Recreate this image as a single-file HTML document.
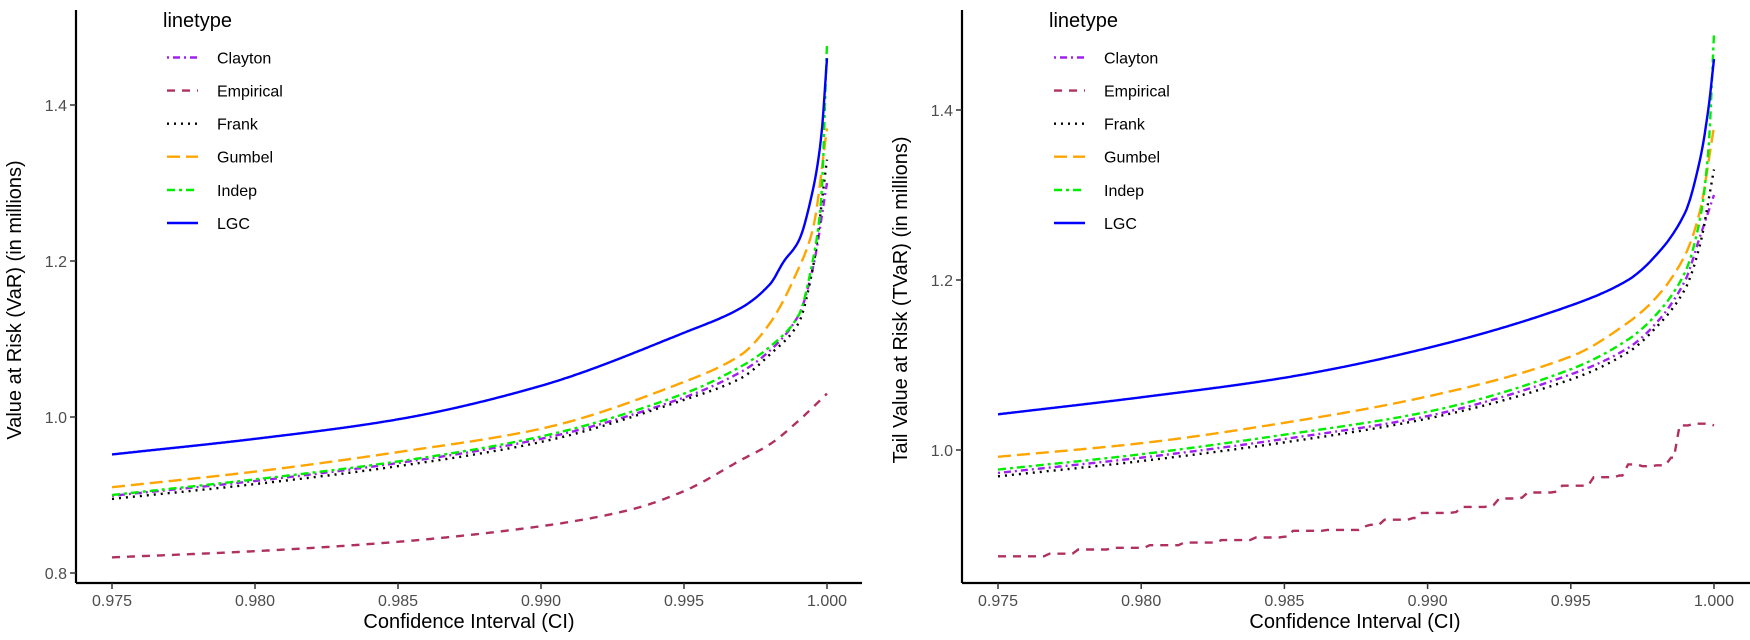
<!DOCTYPE html>
<html><head><meta charset="utf-8"><style>
html,body{margin:0;padding:0;background:#fff}
svg{display:block}
text{font-family:"Liberation Sans",sans-serif}
.tk{font-size:16px;fill:#4d4d4d}
.tt{font-size:20px;fill:#000}
.lg{font-size:16px;fill:#000}
</style></head><body>
<svg id="s" width="1750" height="640" xmlns="http://www.w3.org/2000/svg">
<g id="g"></g>
</svg>
<script>
const NS="http://www.w3.org/2000/svg";
const g=document.getElementById('g');
function el(t,a,txt){const e=document.createElementNS(NS,t);for(const k in a)e.setAttribute(k,a[k]);if(txt!=null)e.textContent=txt;g.appendChild(e);return e;}
const styles={
Clayton:{c:"#A020F0",d:"2 4 7 4"},
Empirical:{c:"#B03060",d:"8 7"},
Frank:{c:"#000",d:"2 5"},
Gumbel:{c:"#FFA500",d:"13 6"},
Indep:{c:"#00EE00",d:"8 4 3 4"},
LGC:{c:"#0000FF",d:""}
};
const names=["Clayton","Empirical","Frank","Gumbel","Indep","LGC"];
// monotone cubic (Fritsch-Carlson)
function mono(pts){const n=pts.length,xs=pts.map(p=>p[0]),ys=pts.map(p=>p[1]);const d=[],m=[];
 for(let i=0;i<n-1;i++)d.push((ys[i+1]-ys[i])/(xs[i+1]-xs[i]));
 m[0]=d[0];m[n-1]=d[n-2];for(let i=1;i<n-1;i++){m[i]=(d[i-1]*d[i]<=0)?0:(2*d[i-1]*d[i])/(d[i-1]+d[i]);}
 return function(x){let i=0;while(i<n-2&&x>xs[i+1])i++;const h=xs[i+1]-xs[i],t=(x-xs[i])/h,t2=t*t,t3=t2*t;
  return (2*t3-3*t2+1)*ys[i]+(t3-2*t2+t)*h*m[i]+(-2*t3+3*t2)*ys[i+1]+(t3-t2)*h*m[i+1];};}
function panel(P){
 const X=p=>P.x0+(p-0.975)/0.005*P.dx;
 const Y=v=>P.y0-(v-P.v0)/0.2*P.dy;
 el('line',{x1:P.ax,y1:10,x2:P.ax,y2:583,stroke:'#000','stroke-width':2.2});
 el('line',{x1:P.ax,y1:583,x2:P.axEnd,y2:583,stroke:'#000','stroke-width':2.2});
 [0.975,0.980,0.985,0.990,0.995,1.000].forEach(p=>{const x=X(p);el('line',{x1:x,y1:583,x2:x,y2:589,stroke:'#333','stroke-width':1.5});el('text',{x:x,y:606,'text-anchor':'middle',class:'tk'},p.toFixed(3));});
 P.yt.forEach(v=>{const y=Y(v);el('line',{x1:P.ax-6,y1:y,x2:P.ax,y2:y,stroke:'#333','stroke-width':1.5});el('text',{x:P.ax-9,y:y+6,'text-anchor':'end',class:'tk'},v.toFixed(1));});
 el('text',{x:P.xtx,y:628,'text-anchor':'middle',class:'tt'},'Confidence Interval (CI)');
 el('text',{x:0,y:0,'text-anchor':'middle',class:'tt',transform:`translate(${P.ytx},${P.yty}) rotate(-90)`},P.ytitle);
 names.forEach(n=>{const pts=P.data[n];let d="";
  if(n==="Empirical"&&P.step){d=P.step.map((q,i)=>(i?"L":"M")+X(q[0]).toFixed(1)+","+Y(q[1]).toFixed(1)).join(" ");}
  else{const f=mono(pts);for(let i=0;i<=600;i++){const x=0.975+0.025*i/600;const v=f(x);d+=(i?"L":"M")+X(x).toFixed(1)+","+Y(v).toFixed(1);}}
  el('path',{d:d,fill:'none',stroke:styles[n].c,'stroke-width':2.4,'stroke-dasharray':styles[n].d});
 });
 el('text',{x:P.lx,y:27,class:'tt'},'linetype');
 const ly=[57.5,90.6,123.7,156.7,190,223];
 names.forEach((n,i)=>{el('line',{x1:P.kx,y1:ly[i],x2:P.kx+31,y2:ly[i],stroke:styles[n].c,'stroke-width':2.4,'stroke-dasharray':styles[n].d});el('text',{x:P.kx+50,y:ly[i]+6,class:'lg'},n);});
}
panel({x0:112,dx:143,ax:76,axEnd:862,y0:573,v0:0.8,dy:156,yt:[0.8,1.0,1.2,1.4],
 xtx:469,ytx:21,yty:300,ytitle:'Value at Risk (VaR) (in millions)',lx:163,kx:167,
 data:{
 LGC:[[0.975,0.952],[0.98,0.972],[0.985,0.997],[0.99,1.04],[0.995,1.108],[0.997,1.14],[0.998,1.17],[0.9985,1.20],[0.999,1.225],[0.9995,1.29],[0.9998,1.36],[1.0,1.46]],
 Gumbel:[[0.975,0.910],[0.98,0.930],[0.985,0.955],[0.99,0.985],[0.995,1.045],[0.997,1.08],[0.998,1.12],[0.999,1.19],[0.9995,1.24],[1.0,1.37]],
 Indep:[[0.975,0.900],[0.98,0.920],[0.985,0.943],[0.99,0.975],[0.995,1.030],[0.997,1.065],[0.998,1.09],[0.999,1.13],[0.9995,1.20],[0.9998,1.28],[1.0,1.48]],
 Clayton:[[0.975,0.899],[0.98,0.918],[0.985,0.941],[0.99,0.972],[0.995,1.025],[0.997,1.058],[0.998,1.085],[0.999,1.13],[0.9995,1.19],[1.0,1.30]],
 Frank:[[0.975,0.895],[0.98,0.914],[0.985,0.937],[0.99,0.968],[0.995,1.022],[0.997,1.05],[0.998,1.08],[0.999,1.12],[0.9995,1.19],[1.0,1.33]],
 Empirical:[[0.975,0.820],[0.98,0.828],[0.985,0.840],[0.99,0.860],[0.993,0.880],[0.995,0.905],[0.997,0.945],[0.998,0.965],[0.999,0.995],[1.0,1.03]]
 }});
const step=[];(function(){
 const segs=[[0.9768,0.878],[0.9778,0.883],[0.979,0.885],[0.9803,0.888],[0.9815,0.891],[0.9828,0.894],[0.984,0.897],[0.985,0.898],[0.9853,0.905],[0.9865,0.906],[0.9878,0.910],[0.988,0.912],[0.9885,0.918],[0.9895,0.920],[0.9898,0.926],[0.991,0.927],[0.9912,0.933],[0.9922,0.935],[0.9925,0.943],[0.9933,0.944],[0.9935,0.950],[0.9945,0.951],[0.9947,0.958],[0.9955,0.958],[0.9958,0.968],[0.9967,0.970],[0.997,0.983],[0.9975,0.981],[0.998,0.982],[0.9985,0.991],[0.9988,1.029],[0.9993,1.031],[1.0,1.029]];
 let last=[0.975,0.875];step.push(last);segs.forEach(s=>{step.push([s[0]-0.0002,last[1]]);step.push(s);last=s;});
})();
panel({x0:998,dx:143.2,ax:962,axEnd:1750,y0:450,v0:1.0,dy:170,yt:[1.0,1.2,1.4],
 xtx:1355,ytx:907,yty:300,ytitle:'Tail Value at Risk (TVaR) (in millions)',lx:1049,kx:1054,step:step,
 data:{
 LGC:[[0.975,1.042],[0.98,1.062],[0.985,1.085],[0.99,1.12],[0.995,1.17],[0.997,1.20],[0.998,1.23],[0.999,1.28],[0.9995,1.34],[0.9998,1.40],[1.0,1.46]],
 Gumbel:[[0.975,0.992],[0.98,1.008],[0.985,1.032],[0.99,1.063],[0.995,1.11],[0.997,1.15],[0.998,1.18],[0.999,1.23],[0.9995,1.28],[1.0,1.38]],
 Indep:[[0.975,0.977],[0.98,0.995],[0.985,1.018],[0.99,1.045],[0.995,1.095],[0.997,1.13],[0.998,1.16],[0.999,1.21],[0.9995,1.27],[0.9998,1.35],[1.0,1.49]],
 Clayton:[[0.975,0.973],[0.98,0.991],[0.985,1.013],[0.99,1.040],[0.995,1.089],[0.997,1.12],[0.998,1.15],[0.999,1.20],[0.9995,1.25],[1.0,1.30]],
 Frank:[[0.975,0.969],[0.98,0.987],[0.985,1.009],[0.99,1.037],[0.995,1.083],[0.997,1.115],[0.998,1.145],[0.999,1.19],[0.9995,1.24],[1.0,1.33]],
 Empirical:[[0.975,0.875],[1.0,1.03]]
 }});
</script>
</body></html>
